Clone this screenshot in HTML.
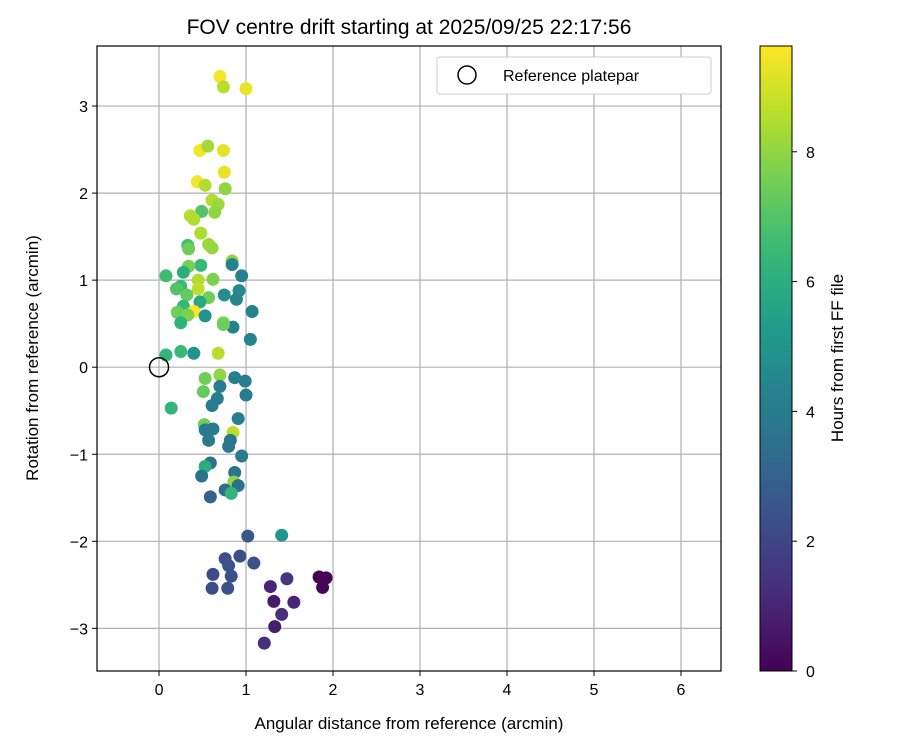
<!DOCTYPE html>
<html><head><meta charset="utf-8"><style>
body{margin:0;background:#fff;font-family:"Liberation Sans",sans-serif}
</style></head><body>
<svg id="chart" width="900" height="750" xmlns="http://www.w3.org/2000/svg" font-family="Liberation Sans, sans-serif">
<defs><linearGradient id="vir" x1="0" y1="1" x2="0" y2="0"></linearGradient></defs>
<text x="409" y="34" text-anchor="middle" font-size="21">FOV centre drift starting at 2025/09/25 22:17:56</text>
<g id="grid"></g>
<g id="pts"></g>
<rect x="97" y="46" width="624" height="625" fill="none" stroke="#000" stroke-width="1.2"/>
<g id="ticks"></g>
<text x="409" y="729" text-anchor="middle" font-size="17">Angular distance from reference (arcmin)</text>
<text transform="translate(38,358) rotate(-90)" text-anchor="middle" font-size="17">Rotation from reference (arcmin)</text>
<g>
<rect x="437" y="57" width="274" height="37" rx="3" fill="#fff" stroke="#ccc"/>
<circle cx="467" cy="75" r="9" fill="none" stroke="#000" stroke-width="1.5"/>
<text x="503" y="81" font-size="16">Reference platepar</text>
</g>
<rect x="760" y="46" width="32" height="625" fill="url(#vir)" stroke="#000" stroke-width="1"/>
<g id="cbt"></g>
<text transform="translate(843,358) rotate(-90)" text-anchor="middle" font-size="17">Hours from first FF file</text>
</svg>
<script>
const xs=[0.70,0.74,1.00,0.47,0.56,0.74,0.75,0.44,0.53,0.76,0.61,0.68,0.49,0.64,0.36,0.40,0.48,0.57,0.61,0.33,0.34,0.84,0.84,0.48,0.34,0.08,0.95,0.28,0.45,0.62,0.25,0.20,0.45,0.92,0.75,0.89,0.32,0.57,0.47,0.28,1.07,0.40,0.21,0.33,0.53,0.25,0.74,0.85,0.74,1.05,0.40,0.25,0.08,0.68,
0.70,0.53,0.87,0.99,0.70,0.51,1.00,0.67,0.61,0.14,0.91,0.52,0.53,0.62,0.85,0.57,0.82,0.80,0.95,0.59,0.53,0.49,0.87,0.86,0.91,0.76,0.83,0.59,1.02,1.41,1.09,0.93,0.76,0.80,0.83,0.62,0.61,0.79,1.28,1.47,1.32,1.41,1.55,1.33,1.21,1.84,1.92,1.88];
const ys=[3.34,3.22,3.20,2.49,2.54,2.49,2.24,2.13,2.09,2.05,1.92,1.87,1.79,1.78,1.74,1.70,1.54,1.41,1.37,1.40,1.36,1.22,1.18,1.17,1.16,1.05,1.05,1.09,1.00,1.01,0.93,0.90,0.90,0.88,0.83,0.78,0.83,0.80,0.75,0.70,0.64,0.64,0.63,0.60,0.59,0.51,0.51,0.46,0.49,0.32,0.16,0.18,0.14,0.16,
-0.09,-0.13,-0.12,-0.16,-0.22,-0.28,-0.32,-0.36,-0.44,-0.47,-0.59,-0.66,-0.72,-0.71,-0.75,-0.84,-0.84,-0.91,-1.02,-1.10,-1.14,-1.25,-1.21,-1.32,-1.36,-1.41,-1.45,-1.49,-1.94,-1.93,-2.25,-2.17,-2.20,-2.28,-2.40,-2.38,-2.54,-2.54,-2.52,-2.43,-2.69,-2.84,-2.70,-2.98,-3.17,-2.41,-2.42,-2.53];
const hours=[9.5,8.6,9.3,9.5,8.3,9.2,9.3,9.5,8.5,8.0,8.5,8.2,7.0,8.0,8.6,8.5,8.4,8.2,8.1,6.7,7.5,8.0,4.3,6.5,7.6,6.6,4.2,6.0,8.5,7.7,6.5,7.0,8.7,4.6,4.7,4.4,7.3,7.5,5.8,6.4,4.3,9.6,7.5,7.7,5.0,6.2,7.8,4.3,7.5,4.3,5.0,6.5,6.3,8.6,
8.0,7.5,4.2,4.1,4.1,7.3,4.0,4.0,4.0,6.3,4.1,7.5,3.9,4.0,8.6,3.9,3.8,3.8,3.9,3.6,6.0,3.7,3.8,8.0,3.5,3.4,6.3,3.0,2.6,5.0,2.4,2.3,2.4,2.5,2.3,2.2,2.2,2.4,1.0,1.5,0.7,1.3,1.0,0.8,1.3,0.0,0.1,0.1];
const xTicks=[0,1,2,3,4,5,6];
const yTicks=[-3,-2,-1,0,1,2,3];
const cTicks=[0,2,4,6,8];
const X0=-0.713,X1=6.46,Y0=-3.49,Y1=3.69,HMAX=9.63;
const L=97,R=721,T=46,B=671;
const sx=v=>L+(v-X0)/(X1-X0)*(R-L);
const sy=v=>B-(v-Y0)/(Y1-Y0)*(B-T);
const sc=v=>671-v/HMAX*625;
const V=[[68,1,84],[72,40,120],[62,74,137],[49,104,142],[38,130,142],[31,158,137],[53,183,121],[110,206,88],[181,222,43],[253,231,37]];
function vir(t){t=Math.max(0,Math.min(1,t))*9;const i=Math.min(8,Math.floor(t)),f=t-i;const c=V[i].map((a,k)=>Math.round(a+(V[i+1][k]-a)*f));return `rgb(${c})`;}
const NS="http://www.w3.org/2000/svg";
function mk(tag,at,par){const e=document.createElementNS(NS,tag);for(const k in at)e.setAttribute(k,at[k]);par.appendChild(e);return e;}
const g=document.getElementById('grid'),tk=document.getElementById('ticks');
xTicks.forEach(v=>{const x=sx(v);
const l=mk('line',{x1:x,x2:x,y1:T,y2:B,stroke:'#b0b0b0','stroke-width':1.2},g);


const m=mk('line',{x1:x,x2:x,y1:B,y2:B+5,stroke:'#000'},tk);


const t=mk('text',{x:x,y:B+24,'text-anchor':'middle','font-size':16},tk);t.textContent=v;

});
yTicks.forEach(v=>{const y=sy(v);
const l=mk('line',{x1:L,x2:R,y1:y,y2:y,stroke:'#b0b0b0','stroke-width':1.2},g);


const m=mk('line',{x1:L-5,x2:L,y1:y,y2:y,stroke:'#000'},tk);


const t=mk('text',{x:L-9,y:y+6,'text-anchor':'end','font-size':16},tk);t.textContent=v<0?'\u2212'+(-v):v;

});
const p=document.getElementById('pts');
xs.forEach((x,i)=>{const c=mk('circle',{cx:sx(x),cy:sy(ys[i]),r:6.5,fill:vir(hours[i]/HMAX)},p);

});
const ref=mk('circle',{cx:sx(0),cy:sy(0),r:9.5,fill:'none',stroke:'#000','stroke-width':1.5},p);


const gr=document.getElementById('vir');
for(let i=0;i<=20;i++){const s=mk('stop',{offset:(i/20),'stop-color':vir(i/20)},gr);}
const cb=document.getElementById('cbt');
cTicks.forEach(v=>{const y=sc(v);
const m=mk('line',{x1:792,x2:797,y1:y,y2:y,stroke:'#000'},cb);


const t=mk('text',{x:806,y:y+6,'font-size':16},cb);t.textContent=v;

});
</script>
</body></html>
